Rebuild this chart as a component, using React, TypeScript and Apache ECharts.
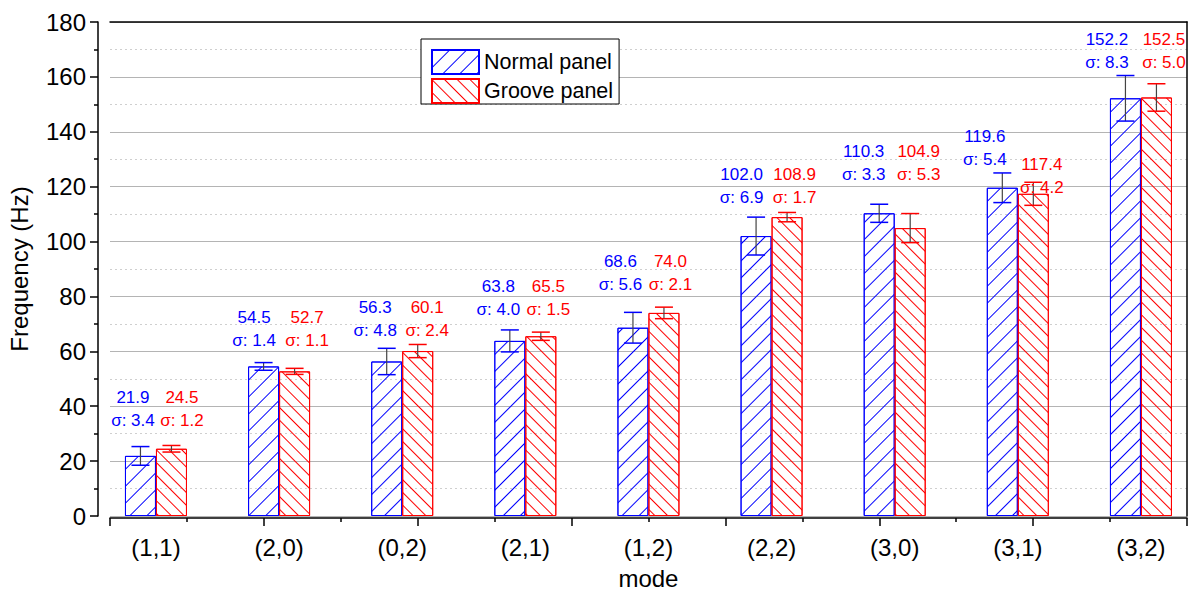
import React, { useEffect, useRef } from "react";
import * as echarts from "echarts";

const categories = ["(1,1)", "(2,0)", "(0,2)", "(2,1)", "(1,2)", "(2,2)", "(3,0)", "(3,1)", "(3,2)"];
const normalValues = [21.9, 54.5, 56.3, 63.8, 68.6, 102.0, 110.3, 119.6, 152.2];
const normalSigma = [3.4, 1.4, 4.8, 4.0, 5.6, 6.9, 3.3, 5.4, 8.3];
const grooveValues = [24.5, 52.7, 60.1, 65.5, 74.0, 108.9, 104.9, 117.4, 152.5];
const grooveSigma = [1.2, 1.1, 2.4, 1.5, 2.1, 1.7, 5.3, 4.2, 5.0];
// annotation anchor heights (in Hz units) of the value row of each label pair
const normalLabelAt = [43.0, 72.2, 75.8, 83.5, 92.9, 124.3, 132.7, 138.1, 173.5];
const grooveLabelAt = [43.0, 72.2, 75.8, 83.5, 92.9, 124.3, 132.7, 128.0, 173.5];
// horizontal shift (px) of each annotation from its category centre
const normalLabelShift = [-23, -25, -27, -27, -28, -30, -31, -33, -34];
const grooveLabelShift = [26, 28, 25, 23, 22, 23, 24, 24, 23];
const yTicks = { min: 0, max: 180, interval: 20 };

const FONT = '"Liberation Sans", Arial, sans-serif';
const BLUE = "#0000ff";
const RED = "#ff0000";
const AXIS_FONT = 24;

function errRender(dx: number, color: string) {
  return (params: any, api: any) => {
    const i = api.value(0);
    const v = api.value(1);
    const s = api.value(2);
    const c = api.coord([i, v]);
    const t = api.coord([i, v + s]);
    const b = api.coord([i, v - s]);
    const x = c[0] + dx;
    return {
      type: "group",
      children: [
        { type: "line", shape: { x1: x, y1: t[1], x2: x, y2: b[1] }, style: { stroke: "#444", lineWidth: 1.2 } },
        { type: "line", shape: { x1: x - 9, y1: t[1], x2: x + 9, y2: t[1] }, style: { stroke: color, lineWidth: 1.5 } },
        { type: "line", shape: { x1: x - 9, y1: b[1], x2: x + 9, y2: b[1] }, style: { stroke: color, lineWidth: 1.5 } },
      ],
    };
  };
}

function labelRender(shifts: number[], color: string) {
  return (params: any, api: any) => {
    const i = api.value(0);
    const p = api.coord([i, api.value(1)]);
    const x = p[0] + shifts[params.dataIndex];
    return {
      type: "group",
      children: [
        {
          type: "text",
          style: { text: Number(api.value(2)).toFixed(1), x, y: p[1], align: "center", verticalAlign: "middle", fill: color, fontSize: 17, fontFamily: FONT },
        },
        {
          type: "text",
          style: { text: "σ: " + Number(api.value(3)).toFixed(1), x, y: p[1] + 23, align: "center", verticalAlign: "middle", fill: color, fontSize: 17, fontFamily: FONT },
        },
      ],
    };
  };
}

export default function App() {
  const ref = useRef<HTMLDivElement>(null);
  useEffect(() => {
    if (!ref.current) return;
    const chart = echarts.init(ref.current, undefined, { renderer: "svg" });
    const axisLineStyle = { color: "#000", width: 1.5 };
    const option: any = {
      animation: false,
      backgroundColor: "#fff",
      textStyle: { fontFamily: FONT },
      grid: [
        { left: 110, right: 2, top: 22, bottom: 75, containLabel: false, outerBoundsMode: "none" },
        { left: 94.4, right: -13.5, top: 22, bottom: 75, containLabel: false, outerBoundsMode: "none" },
      ],
      legend: {
        data: ["Normal panel", "Groove panel"],
        orient: "vertical",
        left: 421,
        top: 39,
        itemWidth: 47,
        itemHeight: 24,
        itemGap: 3,
        itemTextGap: 7,
        padding: [10, 6, 0, 10],
        borderColor: "#000",
        borderWidth: 1,
        borderRadius: 0,
        backgroundColor: "#fff",
        icon: "rect",
        selectedMode: false,
        textStyle: { fontSize: 21.5, color: "#000", fontFamily: FONT },
      },
      xAxis: [
        {
          type: "category",
          gridIndex: 1,
          data: categories,
          axisLine: { show: false },
          axisTick: { show: false },
          splitLine: { show: false },
          axisLabel: { fontSize: AXIS_FONT, color: "#000", margin: 19, fontFamily: FONT },
          name: "mode",
          nameLocation: "middle",
          nameGap: 50,
          nameTextStyle: { fontSize: AXIS_FONT, color: "#000", fontFamily: FONT },
        },
        {
          type: "value",
          gridIndex: 0,
          min: 0,
          max: 14,
          interval: 2,
          position: "bottom",
          offset: 2,
          axisLine: { show: true, onZero: false, lineStyle: axisLineStyle },
          axisTick: { show: true, inside: false, length: 8, lineStyle: axisLineStyle },
          minorTick: { show: true, splitNumber: 2, length: 4, lineStyle: axisLineStyle },
          axisLabel: { show: false },
          splitLine: { show: false },
        },
        {
          type: "value",
          gridIndex: 0,
          min: 0,
          max: 14,
          position: "top",
          axisLine: { show: true, onZero: false, lineStyle: axisLineStyle },
          axisTick: { show: false },
          axisLabel: { show: false },
          splitLine: { show: false },
        },
      ],
      yAxis: [
        {
          type: "value",
          gridIndex: 0,
          min: yTicks.min,
          max: yTicks.max,
          interval: yTicks.interval,
          position: "left",
          offset: 12,
          axisLine: { show: true, onZero: false, lineStyle: axisLineStyle },
          axisTick: { show: true, inside: false, length: 8, lineStyle: axisLineStyle },
          minorTick: { show: true, splitNumber: 2, length: 4, lineStyle: axisLineStyle },
          axisLabel: { fontSize: AXIS_FONT, color: "#000", margin: 12, fontFamily: FONT },
          splitLine: { show: true, lineStyle: { color: "#b4b4b4", width: 1 } },
          minorSplitLine: { show: true, lineStyle: { color: "#cfcfcf", width: 1, type: [2, 3] } },
          name: "Frequency (Hz)",
          nameLocation: "middle",
          nameGap: 67,
          nameTextStyle: { fontSize: AXIS_FONT, color: "#000", fontFamily: FONT },
        },
        {
          type: "value",
          gridIndex: 0,
          min: yTicks.min,
          max: yTicks.max,
          position: "right",
          axisLine: { show: true, onZero: false, lineStyle: axisLineStyle },
          axisTick: { show: false },
          axisLabel: { show: false },
          splitLine: { show: false },
        },
        { type: "value", gridIndex: 1, min: yTicks.min, max: yTicks.max, show: false, splitLine: { show: false } },
      ],
      series: [
        {
          name: "Normal panel",
          type: "bar",
          xAxisIndex: 0,
          yAxisIndex: 2,
          data: normalValues,
          barWidth: 31,
          barGap: "0%",
          itemStyle: {
            color: "rgba(255,255,255,0)",
            borderColor: BLUE,
            borderWidth: 1,
            decal: { symbol: "rect", symbolSize: 1, color: BLUE, dashArrayX: [1, 0], dashArrayY: [1, 11], rotation: -Math.PI / 4 },
          },
        },
        {
          name: "Groove panel",
          type: "bar",
          xAxisIndex: 0,
          yAxisIndex: 2,
          data: grooveValues,
          barWidth: 31,
          barGap: "0%",
          itemStyle: {
            color: "rgba(255,255,255,0)",
            borderColor: RED,
            borderWidth: 1,
            decal: { symbol: "rect", symbolSize: 1, color: RED, dashArrayX: [1, 0], dashArrayY: [1, 8], rotation: Math.PI / 4 },
          },
        },
        {
          type: "custom",
          xAxisIndex: 0,
          yAxisIndex: 2,
          silent: true,
          z: 5,
          data: normalValues.map((v, i) => [i, v, normalSigma[i]]),
          renderItem: errRender(-15.5, BLUE),
        },
        {
          type: "custom",
          xAxisIndex: 0,
          yAxisIndex: 2,
          silent: true,
          z: 5,
          data: grooveValues.map((v, i) => [i, v, grooveSigma[i]]),
          renderItem: errRender(15.5, RED),
        },
        {
          type: "custom",
          xAxisIndex: 0,
          yAxisIndex: 2,
          silent: true,
          z: 6,
          data: normalValues.map((v, i) => [i, normalLabelAt[i], v, normalSigma[i]]),
          renderItem: labelRender(normalLabelShift, BLUE),
        },
        {
          type: "custom",
          xAxisIndex: 0,
          yAxisIndex: 2,
          silent: true,
          z: 6,
          data: grooveValues.map((v, i) => [i, grooveLabelAt[i], v, grooveSigma[i]]),
          renderItem: labelRender(grooveLabelShift, RED),
        },
      ],
    };
    chart.setOption(option);
    return () => chart.dispose();
  }, []);
  return <div ref={ref} style={{ position: "absolute", left: 0, top: 0, width: 1189, height: 591 }} />;
}
